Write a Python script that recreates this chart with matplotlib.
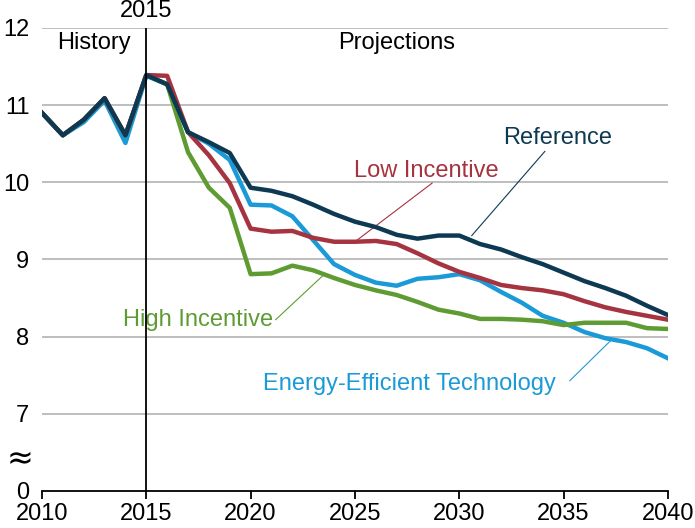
import numpy as np
import matplotlib.pyplot as plt

plt.rcParams['font.family'] = ['Liberation Sans', 'DejaVu Sans']

years = np.arange(2010, 2041)

reference = [10.90, 10.61, 10.81, 11.09, 10.61, 11.39, 11.27, 10.65, 10.52, 10.38,
             9.93, 9.89, 9.82, 9.71, 9.59, 9.49, 9.42, 9.32, 9.27, 9.31,
             9.31, 9.20, 9.13, 9.03, 8.94, 8.83, 8.72, 8.63, 8.53, 8.40, 8.28]

low_incentive = [10.90, 10.61, 10.81, 11.09, 10.61, 11.39, 11.38, 10.65, 10.35, 9.99,
                 9.40, 9.36, 9.37, 9.28, 9.23, 9.23, 9.24, 9.20, 9.08, 8.95,
                 8.84, 8.76, 8.67, 8.63, 8.60, 8.55, 8.46, 8.38, 8.32, 8.27, 8.22]

high_incentive = [10.90, 10.61, 10.81, 11.09, 10.61, 11.39, 11.27, 10.39, 9.93, 9.67,
                  8.81, 8.82, 8.92, 8.86, 8.76, 8.67, 8.60, 8.54, 8.45, 8.35,
                  8.30, 8.23, 8.23, 8.22, 8.20, 8.15, 8.18, 8.18, 8.18, 8.11, 8.10]

eff_tech = [10.90, 10.61, 10.78, 11.06, 10.51, 11.38, 11.27, 10.65, 10.50, 10.29,
            9.71, 9.70, 9.56, 9.25, 8.94, 8.80, 8.70, 8.66, 8.75, 8.77,
            8.81, 8.73, 8.58, 8.44, 8.27, 8.18, 8.06, 7.98, 7.93, 7.85, 7.72]

navy = '#0d3a52'
red = '#a63340'
green = '#5f9b33'
blue = '#1a9ad7'

fig = plt.figure(figsize=(6.95, 5.28), dpi=100)
ax = fig.add_axes([0.0604, 0.0701, 0.9006, 0.8769])

# axis: 6 on the plot stands for 0 (broken scale)
ax.set_xlim(2010, 2040)
ax.set_ylim(6, 12)
for v in range(7, 13):
    ax.axhline(v, color='#b3b3b3', lw=1.2, zorder=1)

ax.plot(years, eff_tech, color=blue, lw=3.2, zorder=3)
ax.plot(years, high_incentive, color=green, lw=3.2, zorder=3)
ax.plot(years, low_incentive, color=red, lw=3.2, zorder=3)
ax.plot(years, reference, color=navy, lw=3.2, zorder=4)

ax.axvline(2015, color='black', lw=1.3, zorder=5)

for s in ['top', 'right', 'left']:
    ax.spines[s].set_visible(False)
ax.spines['bottom'].set_linewidth(1.3)

fs = 17
ax.set_xticks(np.arange(2010, 2041, 5))
ax.set_yticks(range(6, 13))
ax.set_yticklabels(['0', '7', '8', '9', '10', '11', '12'])
ax.tick_params(axis='x', length=6, width=1.3, labelsize=fs, pad=3)
ax.tick_params(axis='y', length=0, labelsize=fs, pad=9)

ax.text(2015, 12.08, '2015', ha='center', va='bottom', fontsize=fs)
ax.text(2012.5, 11.8, 'History', ha='center', va='center', fontsize=fs)
ax.text(2027.0, 11.8, 'Projections', ha='center', va='center', fontsize=fs)
ax.text(-0.035, 0.067, '≈', transform=ax.transAxes, ha='center', va='center',
        fontsize=23, family=['DejaVu Sans'])

# series labels with leader lines
ax.text(2034.7, 10.57, 'Reference', color=navy, ha='center', va='center', fontsize=fs)
ax.plot([2030.6, 2034.1], [9.31, 10.40], color=navy, lw=0.8, zorder=2)

ax.text(2028.4, 10.15, 'Low Incentive', color=red, ha='center', va='center', fontsize=fs)
ax.plot([2025.0, 2028.7], [9.23, 9.99], color=red, lw=0.8, zorder=2)

ax.text(2017.5, 8.21, 'High Incentive', color=green, ha='center', va='center', fontsize=fs)
ax.plot([2021.2, 2023.5], [8.22, 8.80], color=green, lw=0.8, zorder=2)

ax.text(2027.6, 7.38, 'Energy-Efficient Technology', color=blue, ha='center', va='center',
        fontsize=fs)
ax.plot([2035.3, 2037.3], [7.43, 7.96], color=blue, lw=0.8, zorder=2)

fig.savefig('out.png', dpi=100)
